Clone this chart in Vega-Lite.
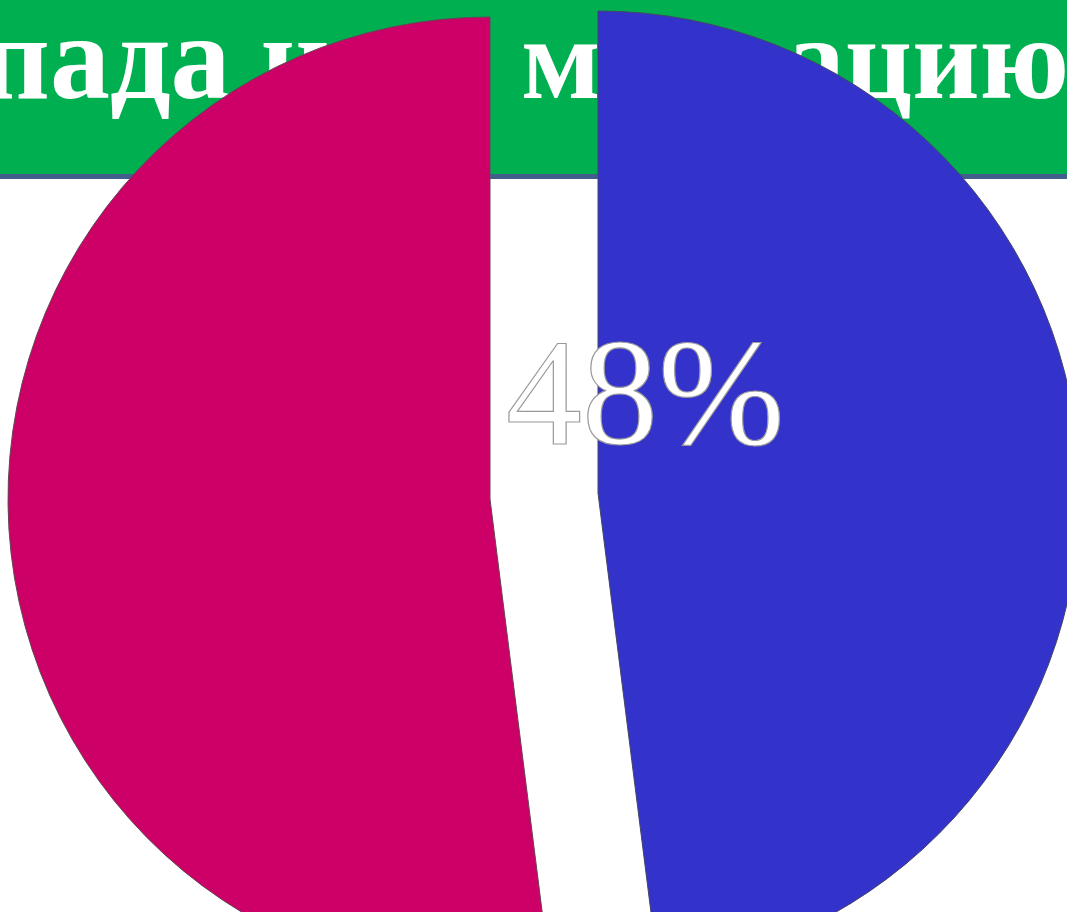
{
  "$schema": "https://vega.github.io/schema/vega-lite/v6.json",
  "width": 1067,
  "height": 912,
  "autosize": {"type": "none"},
  "padding": 0,
  "background": "white",
  "config": {"view": {"stroke": null}},
  "data": {"values": [
    {"segment": "A", "share": 48, "order": 1, "label": "48%"},
    {"segment": "B", "share": 52, "order": 2, "label": "52%"}
  ]},
  "layer": [
    {
      "data": {"values": [{"element": "banner"}]},
      "mark": {"type": "rect", "x": 0, "x2": 1067, "y": 0, "y2": 174, "color": "#00AF50"},
      "encoding": {}
    },
    {
      "data": {"values": [{"element": "line"}]},
      "mark": {"type": "rect", "x": 0, "x2": 1067, "y": 174, "y2": 179, "color": "#415E8C"},
      "encoding": {}
    },
    {
      "data": {"values": [{"title": "Запада на"}]},
      "mark": {"type": "text", "x": -141, "y": 98, "align": "left", "baseline": "alphabetic", "font": "Liberation Serif", "fontWeight": "bold", "fontSize": 120, "color": "white"},
      "encoding": {"text": {"field": "title"}}
    },
    {
      "data": {"values": [{"title": "миграцию"}]},
      "mark": {"type": "text", "x": 521, "y": 98, "align": "left", "baseline": "alphabetic", "font": "Liberation Serif", "fontWeight": "bold", "fontSize": 117, "color": "white"},
      "encoding": {"text": {"field": "title"}}
    },
    {
      "transform": [
        {"stack": "share", "groupby": [], "sort": [{"field": "order"}], "as": ["s0", "s1"]},
        {"filter": "datum.segment === 'A'"}
      ],
      "mark": {"type": "arc", "outerRadius": 482, "xOffset": 64.5, "yOffset": 37, "stroke": "#444466", "strokeWidth": 1},
      "encoding": {
        "theta": {"field": "s0", "type": "quantitative", "scale": {"domain": [0, 100], "range": [0, 6.283185]}},
        "theta2": {"field": "s1"},
        "color": {"value": "#3333CC"}
      }
    },
    {
      "transform": [
        {"stack": "share", "groupby": [], "sort": [{"field": "order"}], "as": ["s0", "s1"]},
        {"filter": "datum.segment === 'B'"}
      ],
      "mark": {"type": "arc", "outerRadius": 482, "xOffset": -43.5, "yOffset": 43, "stroke": "#664455", "strokeWidth": 1},
      "encoding": {
        "theta": {"field": "s0", "type": "quantitative", "scale": {"domain": [0, 100], "range": [0, 6.283185]}},
        "theta2": {"field": "s1"},
        "color": {"value": "#CC0066"}
      }
    },
    {
      "transform": [{"filter": "datum.segment === 'A'"}],
      "mark": {"type": "text", "radius": 46, "dx": 66, "dy": -9, "font": "Liberation Serif", "fontSize": 152, "fill": "white", "stroke": "#9a9a9a", "strokeWidth": 1.2, "baseline": "alphabetic", "align": "center"},
      "encoding": {
        "theta": {"field": "share", "type": "quantitative", "stack": true},
        "text": {"field": "label"}
      }
    }
  ]
}
